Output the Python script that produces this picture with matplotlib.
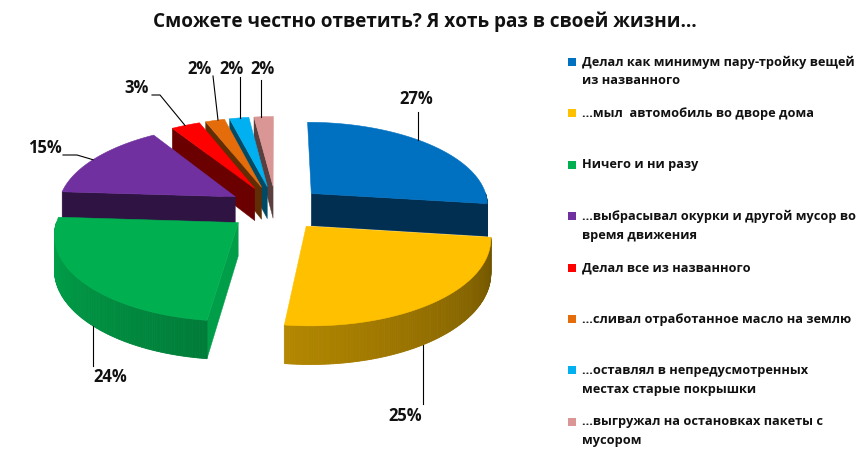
import numpy as np
import matplotlib
matplotlib.use("Agg")
import matplotlib.pyplot as plt
from matplotlib.patches import Polygon, Rectangle
from matplotlib.colors import to_rgb

# ---------------- data ----------------
title = "Сможете честно ответить? Я хоть раз в своей жизни…"
categories = [
    "Делал как минимум пару-тройку вещей\nиз названного",
    "...мыл  автомобиль во дворе дома",
    "Ничего и ни разу",
    "...выбрасывал окурки и другой мусор во\nвремя движения",
    "Делал все из названного",
    "...сливал отработанное масло на землю",
    "...оставлял в непредусмотренных\nместах старые покрышки",
    "...выгружал на остановках пакеты с\nмусором",
]
values = [27, 25, 24, 15, 3, 2, 2, 2]
value_labels = ["27%", "25%", "24%", "15%", "3%", "2%", "2%", "2%"]
colors = ["#0070C0", "#FFC000", "#00B050", "#7030A0",
          "#FF0000", "#E46C0A", "#00B0F0", "#D99694"]

# ---------------- layout / style ----------------
FONT = ["Open Sans", "DejaVu Sans"]
W, Hpx = 860, 462
CX, CY = 276, 208      # pie centre (pixels)
R = 178                # horizontal radius
A = 83                 # vertical radius (tilt)
P = 0.12               # perspective strength
DEPTH = 33             # thickness
EXPLODE = 0.27

label_xy = [(416, 99), (405, 416), (110, 377), (45, 148), (137, 88),
            (200, 69), (232, 69), (263, 69)]
leader_start = [(418, 112), (423, 404), (93, 366), (63, 155), (152, 95),
                (213, 76), (240, 77), (261, 80)]
leader_elbow = [None, None, None, (77, 155), (160, 95), None, None, None]
leader_target_x = [418, 423, 93, 93, 185, 218, 240, 261]

fig = plt.figure(figsize=(W / 100, Hpx / 100), dpi=100)
ax = fig.add_axes([0, 0, 1, 1])
ax.set_xlim(0, W)
ax.set_ylim(Hpx, 0)
ax.axis("off")


def proj(u, v, z):
    g = 1.0 / (1.0 + P * v)
    return CX + R * u * g, CY - A * v * g + DEPTH * z * g


def shade(c, f):
    r, g, b = to_rgb(c)
    return (r * f, g * f, b * f)


def wall_factor(theta):
    t = theta % 360
    return 0.95 - (t - 180) / 180 * 0.53


total = float(sum(values))
cum = np.concatenate([[0], np.cumsum(values)])
wedges = []
for i, val in enumerate(values):
    a2 = 90 - 360 * cum[i] / total
    a1 = 90 - 360 * cum[i + 1] / total
    mid = np.radians((a1 + a2) / 2)
    ou, ov = EXPLODE * np.cos(mid), EXPLODE * np.sin(mid)
    wedges.append(dict(i=i, a1=a1, a2=a2, mid=mid, ou=ou, ov=ov))

order = sorted(wedges, key=lambda w: -w["ov"])
z = 1
for w in order:
    i, a1, a2, ou, ov = w["i"], w["a1"], w["a2"], w["ou"], w["ov"]
    col = colors[i]
    # radial faces
    for ang, normal in ((a1, a1 - 90), (a2, a2 + 90)):
        if np.sin(np.radians(normal)) < -1e-6:
            t = np.radians(ang)
            pts = [proj(ou, ov, 0), proj(ou + np.cos(t), ov + np.sin(t), 0),
                   proj(ou + np.cos(t), ov + np.sin(t), 1), proj(ou, ov, 1)]
            f = 0.9 if np.cos(np.radians(normal)) > 0.5 else 0.42
            ax.add_patch(Polygon(pts, closed=True, fc=shade(col, f),
                                 ec=shade(col, f), lw=0.3, zorder=z))
            z += 1
    # outer wall
    th = np.linspace(a1, a2, max(int((a2 - a1) * 1.5), 4))
    for k in range(len(th) - 1):
        tm = (th[k] + th[k + 1]) / 2
        if np.sin(np.radians(tm)) >= 0:
            continue
        t0, t1 = np.radians(th[k]), np.radians(th[k + 1])
        pts = [proj(ou + np.cos(t0), ov + np.sin(t0), 0),
               proj(ou + np.cos(t1), ov + np.sin(t1), 0),
               proj(ou + np.cos(t1), ov + np.sin(t1), 1),
               proj(ou + np.cos(t0), ov + np.sin(t0), 1)]
        c = shade(col, wall_factor(tm))
        ax.add_patch(Polygon(pts, closed=True, fc=c, ec=c, lw=0.6, zorder=z))
    z += 1
    # top face
    th = np.radians(np.linspace(a1, a2, 120))
    pts = [proj(ou, ov, 0)] + [proj(ou + np.cos(t), ov + np.sin(t), 0) for t in th]
    ax.add_patch(Polygon(pts, closed=True, fc=col, ec=col, lw=0.4, zorder=z))
    z += 1


def rim_point(w, x):
    """Point on the visible rim of wedge w at screen x."""
    zz = 1 if np.sin(w["mid"]) < 0 else 0
    th = np.radians(np.linspace(w["a1"], w["a2"], 200))
    pts = np.array([proj(w["ou"] + np.cos(t), w["ov"] + np.sin(t), zz) for t in th])
    o = np.argsort(pts[:, 0])
    return x, float(np.interp(x, pts[o, 0], pts[o, 1]))


# labels with leader lines
for w in wedges:
    i = w["i"]
    ex, ey = rim_point(w, leader_target_x[i])
    sx, sy = leader_start[i]
    xs, ys = [sx], [sy]
    if leader_elbow[i] is not None:
        xs.append(leader_elbow[i][0]); ys.append(leader_elbow[i][1])
    xs.append(ex); ys.append(ey)
    ax.plot(xs, ys, color="black", lw=0.8, zorder=100)
    ax.text(label_xy[i][0], label_xy[i][1], value_labels[i], family=FONT,
            fontsize=12, fontweight="bold", ha="center", va="center",
            color="#111111", zorder=101)

# title
ax.text(425, 22, title, family=FONT, fontsize=13.7, fontweight="bold",
        ha="center", va="center", color="#111111")

# legend
LEG_X, LEG_Y0, LEG_DY, LINE_DY = 572, 62, 51.4, 19
for i, lab in enumerate(categories):
    y0 = LEG_Y0 + i * LEG_DY
    ax.add_patch(Rectangle((LEG_X - 4, y0 - 4), 8, 8, fc=colors[i], ec="none"))
    for j, line in enumerate(lab.split("\n")):
        ax.text(582, y0 + j * LINE_DY, line, family=FONT, fontsize=9.15,
                fontweight="bold", ha="left", va="center", color="#111111")

fig.savefig("out.png", dpi=100)
